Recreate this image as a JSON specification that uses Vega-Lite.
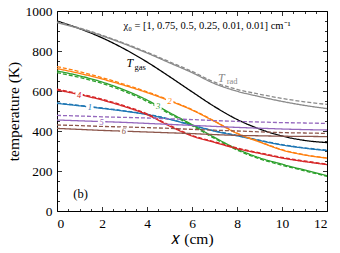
{
  "$schema": "https://vega.github.io/schema/vega-lite/v6.json",
  "width": 270,
  "height": 200,
  "autosize": {"type": "none"},
  "padding": {"left": 57, "top": 11, "right": 13, "bottom": 42},
  "config": {
    "font": "Liberation Serif",
    "view": {"stroke": "black", "strokeWidth": 1},
    "axis": {
      "domain": false, "grid": false,
      "labelFont": "Liberation Serif", "labelFontSize": 13.5, "labelColor": "black",
      "titleFont": "Liberation Serif", "titleFontSize": 15.5, "titleFontWeight": "normal", "titleColor": "black",
      "tickColor": "black", "tickWidth": 0.8
    }
  },
  "datasets": {
    "lines": [
      {"s":"gas","d":"s","x":0,"T":950},{"s":"gas","d":"s","x":1,"T":912},{"s":"gas","d":"s","x":2,"T":866},{"s":"gas","d":"s","x":3,"T":810},{"s":"gas","d":"s","x":4,"T":745},{"s":"gas","d":"s","x":5,"T":672},{"s":"gas","d":"s","x":6,"T":596},{"s":"gas","d":"s","x":7,"T":522},{"s":"gas","d":"s","x":8,"T":458},{"s":"gas","d":"s","x":9,"T":410},{"s":"gas","d":"s","x":10,"T":375},{"s":"gas","d":"s","x":11,"T":353},{"s":"gas","d":"s","x":12,"T":342},
      {"s":"rad","d":"s","x":0,"T":942},{"s":"rad","d":"s","x":1,"T":912},{"s":"rad","d":"s","x":2,"T":876},{"s":"rad","d":"s","x":3,"T":835},{"s":"rad","d":"s","x":4,"T":790},{"s":"rad","d":"s","x":5,"T":741},{"s":"rad","d":"s","x":6,"T":692},{"s":"rad","d":"s","x":7,"T":637},{"s":"rad","d":"s","x":8,"T":599},{"s":"rad","d":"s","x":9,"T":572},{"s":"rad","d":"s","x":10,"T":548},{"s":"rad","d":"s","x":11,"T":528},{"s":"rad","d":"s","x":12,"T":512},
      {"s":"rad","d":"d","x":0,"T":945},{"s":"rad","d":"d","x":1,"T":915},{"s":"rad","d":"d","x":2,"T":879},{"s":"rad","d":"d","x":3,"T":838},{"s":"rad","d":"d","x":4,"T":794},{"s":"rad","d":"d","x":5,"T":746},{"s":"rad","d":"d","x":6,"T":698},{"s":"rad","d":"d","x":7,"T":644},{"s":"rad","d":"d","x":8,"T":608},{"s":"rad","d":"d","x":9,"T":584},{"s":"rad","d":"d","x":10,"T":563},{"s":"rad","d":"d","x":11,"T":546},{"s":"rad","d":"d","x":12,"T":533},
      {"s":"1","d":"s","x":0,"T":538},{"s":"1","d":"s","x":1,"T":526},{"s":"1","d":"s","x":2,"T":513},{"s":"1","d":"s","x":3,"T":499},{"s":"1","d":"s","x":4,"T":482},{"s":"1","d":"s","x":5,"T":458},{"s":"1","d":"s","x":6,"T":428},{"s":"1","d":"s","x":7,"T":399},{"s":"1","d":"s","x":8,"T":376},{"s":"1","d":"s","x":9,"T":352},{"s":"1","d":"s","x":10,"T":330},{"s":"1","d":"s","x":11,"T":314},{"s":"1","d":"s","x":12,"T":302},
      {"s":"1","d":"d","x":0,"T":540},{"s":"1","d":"d","x":1,"T":528},{"s":"1","d":"d","x":2,"T":515},{"s":"1","d":"d","x":3,"T":501},{"s":"1","d":"d","x":4,"T":484},{"s":"1","d":"d","x":5,"T":460},{"s":"1","d":"d","x":6,"T":430},{"s":"1","d":"d","x":7,"T":401},{"s":"1","d":"d","x":8,"T":378},{"s":"1","d":"d","x":9,"T":354},{"s":"1","d":"d","x":10,"T":332},{"s":"1","d":"d","x":11,"T":316},{"s":"1","d":"d","x":12,"T":304},
      {"s":"2","d":"s","x":0,"T":712},{"s":"2","d":"s","x":1,"T":688},{"s":"2","d":"s","x":2,"T":660},{"s":"2","d":"s","x":3,"T":628},{"s":"2","d":"s","x":4,"T":592},{"s":"2","d":"s","x":5,"T":551},{"s":"2","d":"s","x":6,"T":505},{"s":"2","d":"s","x":7,"T":448},{"s":"2","d":"s","x":8,"T":388},{"s":"2","d":"s","x":9,"T":345},{"s":"2","d":"s","x":10,"T":305},{"s":"2","d":"s","x":11,"T":280},{"s":"2","d":"s","x":12,"T":264},
      {"s":"2","d":"d","x":0,"T":722},{"s":"2","d":"d","x":1,"T":697},{"s":"2","d":"d","x":2,"T":667},{"s":"2","d":"d","x":3,"T":633},{"s":"2","d":"d","x":4,"T":596},{"s":"2","d":"d","x":5,"T":554},{"s":"2","d":"d","x":6,"T":507},{"s":"2","d":"d","x":7,"T":450},{"s":"2","d":"d","x":8,"T":390},{"s":"2","d":"d","x":9,"T":347},{"s":"2","d":"d","x":10,"T":307},{"s":"2","d":"d","x":11,"T":281},{"s":"2","d":"d","x":12,"T":265},
      {"s":"3","d":"s","x":0,"T":700},{"s":"3","d":"s","x":1,"T":676},{"s":"3","d":"s","x":2,"T":645},{"s":"3","d":"s","x":3,"T":605},{"s":"3","d":"s","x":4,"T":555},{"s":"3","d":"s","x":5,"T":492},{"s":"3","d":"s","x":6,"T":432},{"s":"3","d":"s","x":7,"T":368},{"s":"3","d":"s","x":8,"T":310},{"s":"3","d":"s","x":9,"T":266},{"s":"3","d":"s","x":10,"T":234},{"s":"3","d":"s","x":11,"T":205},{"s":"3","d":"s","x":12,"T":177},
      {"s":"3","d":"d","x":0,"T":692},{"s":"3","d":"d","x":1,"T":668},{"s":"3","d":"d","x":2,"T":638},{"s":"3","d":"d","x":3,"T":598},{"s":"3","d":"d","x":4,"T":548},{"s":"3","d":"d","x":5,"T":486},{"s":"3","d":"d","x":6,"T":427},{"s":"3","d":"d","x":7,"T":363},{"s":"3","d":"d","x":8,"T":305},{"s":"3","d":"d","x":9,"T":261},{"s":"3","d":"d","x":10,"T":229},{"s":"3","d":"d","x":11,"T":201},{"s":"3","d":"d","x":12,"T":173},
      {"s":"4","d":"s","x":0,"T":605},{"s":"4","d":"s","x":1,"T":582},{"s":"4","d":"s","x":2,"T":555},{"s":"4","d":"s","x":3,"T":522},{"s":"4","d":"s","x":4,"T":482},{"s":"4","d":"s","x":5,"T":425},{"s":"4","d":"s","x":6,"T":375},{"s":"4","d":"s","x":7,"T":343},{"s":"4","d":"s","x":8,"T":312},{"s":"4","d":"s","x":9,"T":288},{"s":"4","d":"s","x":10,"T":265},{"s":"4","d":"s","x":11,"T":247},{"s":"4","d":"s","x":12,"T":232},
      {"s":"4","d":"d","x":0,"T":609},{"s":"4","d":"d","x":1,"T":586},{"s":"4","d":"d","x":2,"T":559},{"s":"4","d":"d","x":3,"T":526},{"s":"4","d":"d","x":4,"T":486},{"s":"4","d":"d","x":5,"T":429},{"s":"4","d":"d","x":6,"T":378},{"s":"4","d":"d","x":7,"T":346},{"s":"4","d":"d","x":8,"T":315},{"s":"4","d":"d","x":9,"T":291},{"s":"4","d":"d","x":10,"T":268},{"s":"4","d":"d","x":11,"T":250},{"s":"4","d":"d","x":12,"T":235},
      {"s":"5","d":"s","x":0,"T":455},{"s":"5","d":"s","x":1,"T":451},{"s":"5","d":"s","x":2,"T":447},{"s":"5","d":"s","x":3,"T":443},{"s":"5","d":"s","x":4,"T":438},{"s":"5","d":"s","x":5,"T":433},{"s":"5","d":"s","x":6,"T":428},{"s":"5","d":"s","x":7,"T":423},{"s":"5","d":"s","x":8,"T":418},{"s":"5","d":"s","x":9,"T":414},{"s":"5","d":"s","x":10,"T":410},{"s":"5","d":"s","x":11,"T":407},{"s":"5","d":"s","x":12,"T":405},
      {"s":"5","d":"d","x":0,"T":478},{"s":"5","d":"d","x":1,"T":475},{"s":"5","d":"d","x":2,"T":471},{"s":"5","d":"d","x":3,"T":468},{"s":"5","d":"d","x":4,"T":465},{"s":"5","d":"d","x":5,"T":461},{"s":"5","d":"d","x":6,"T":457},{"s":"5","d":"d","x":7,"T":452},{"s":"5","d":"d","x":8,"T":448},{"s":"5","d":"d","x":9,"T":445},{"s":"5","d":"d","x":10,"T":442},{"s":"5","d":"d","x":11,"T":440},{"s":"5","d":"d","x":12,"T":438},
      {"s":"6","d":"s","x":0,"T":413},{"s":"6","d":"s","x":1,"T":408},{"s":"6","d":"s","x":2,"T":403},{"s":"6","d":"s","x":3,"T":399},{"s":"6","d":"s","x":4,"T":395},{"s":"6","d":"s","x":5,"T":391},{"s":"6","d":"s","x":6,"T":387},{"s":"6","d":"s","x":7,"T":382},{"s":"6","d":"s","x":8,"T":378},{"s":"6","d":"s","x":9,"T":376},{"s":"6","d":"s","x":10,"T":374},{"s":"6","d":"s","x":11,"T":373},{"s":"6","d":"s","x":12,"T":372},
      {"s":"6","d":"d","x":0,"T":430},{"s":"6","d":"d","x":1,"T":427},{"s":"6","d":"d","x":2,"T":423},{"s":"6","d":"d","x":3,"T":420},{"s":"6","d":"d","x":4,"T":417},{"s":"6","d":"d","x":5,"T":413},{"s":"6","d":"d","x":6,"T":408},{"s":"6","d":"d","x":7,"T":404},{"s":"6","d":"d","x":8,"T":400},{"s":"6","d":"d","x":9,"T":396},{"s":"6","d":"d","x":10,"T":392},{"s":"6","d":"d","x":11,"T":390},{"s":"6","d":"d","x":12,"T":388}
    ],
    "labels": [
      {"s":"1","x":1.46,"T":522,"lab":"1"},
      {"s":"2","x":5.01,"T":550,"lab":"2"},
      {"s":"3","x":4.49,"T":524,"lab":"3"},
      {"s":"4","x":0.98,"T":581,"lab":"4"},
      {"s":"5","x":1.98,"T":446,"lab":"5"},
      {"s":"6","x":2.97,"T":399,"lab":"6"}
    ]
  },
  "layer": [
    {
      "data": {"name": "lines"},
      "mark": {"type": "line", "interpolate": "monotone", "strokeWidth": 1.3},
      "encoding": {
        "x": {"field": "x", "type": "quantitative", "scale": {"domain": [0, 12], "nice": false},
              "axis": {"orient": "bottom", "values": [0,2,4,6,8,10,12], "ticks": false, "labelPadding": 5, "title": "𝑥 (cm)", "titlePadding": 2}},
        "y": {"field": "T", "type": "quantitative", "scale": {"domain": [0, 1000], "nice": false},
              "axis": {"orient": "left", "values": [0,200,400,600,800,1000], "format": "d", "ticks": false, "labelPadding": 5, "title": "temperature (K)", "titlePadding": 4}},
        "color": {"field": "s", "type": "nominal", "legend": null,
                  "scale": {"domain": ["gas","rad","1","2","3","4","5","6"], "range": ["#000000","#8a8a8a","#1f77b4","#ff7f0e","#2ca02c","#d62728","#9467bd","#8c564b"]}},
        "strokeDash": {"field": "d", "type": "nominal", "legend": null, "scale": {"domain": ["s","d"], "range": [[1,0],[4,2]]}},
        "strokeWidth": {"condition": {"test": "datum.s === 'gas'", "value": 1.6}, "value": 1.3}
      }
    },
    {
      "data": {"name": "labels"},
      "mark": {"type": "point", "shape": "square", "filled": true, "color": "white", "opacity": 1, "size": 55},
      "encoding": {
        "x": {"field": "x", "type": "quantitative", "axis": {"orient": "bottom", "values": [0,2,4,6,8,10,12], "labels": false, "tickSize": -4.5, "title": null}},
        "y": {"field": "T", "type": "quantitative", "axis": {"orient": "left", "values": [0,200,400,600,800,1000], "labels": false, "tickSize": -4.5, "title": null}}
      }
    },
    {
      "data": {"name": "labels"},
      "mark": {"type": "text", "fontSize": 8.5, "fontStyle": "italic", "font": "Liberation Serif", "baseline": "middle", "align": "center"},
      "encoding": {
        "x": {"field": "x", "type": "quantitative", "axis": {"orient": "bottom", "values": [1,3,5,7,9,11,0.5,1.5,2.5,3.5,4.5,5.5,6.5,7.5,8.5,9.5,10.5,11.5], "labels": false, "tickSize": -2.5, "title": null}},
        "y": {"field": "T", "type": "quantitative", "axis": {"orient": "left", "values": [50,100,150,250,300,350,450,500,550,650,700,750,850,900,950], "labels": false, "tickSize": -2.5, "title": null}},
        "text": {"field": "lab"},
        "color": {"field": "s", "type": "nominal", "legend": null}
      }
    },
    {
      "data": {"values": [{"x": 6.67, "T": 927, "txt": "χ₀ = [1, 0.75, 0.5, 0.25, 0.01, 0.01] cm⁻¹"}]},
      "mark": {"type": "text", "fontSize": 10.5, "font": "Liberation Serif", "align": "center", "baseline": "middle", "color": "black"},
      "encoding": {
        "x": {"field": "x", "type": "quantitative", "axis": {"orient": "top", "values": [0,2,4,6,8,10,12], "labels": false, "tickSize": -4.5, "title": null}},
        "y": {"field": "T", "type": "quantitative", "axis": {"orient": "right", "values": [0,200,400,600,800,1000], "labels": false, "tickSize": -4.5, "title": null}},
        "text": {"field": "txt"}
      }
    },
    {
      "data": {"values": [{"x": 1.05, "T": 85, "txt": "(b)"}]},
      "mark": {"type": "text", "fontSize": 12.5, "font": "Liberation Serif", "align": "center", "baseline": "middle", "color": "black"},
      "encoding": {
        "x": {"field": "x", "type": "quantitative", "axis": {"orient": "top", "values": [1,3,5,7,9,11,0.5,1.5,2.5,3.5,4.5,5.5,6.5,7.5,8.5,9.5,10.5,11.5], "labels": false, "tickSize": -2.5, "title": null}},
        "y": {"field": "T", "type": "quantitative", "axis": {"orient": "right", "values": [50,100,150,250,300,350,450,500,550,650,700,750,850,900,950], "labels": false, "tickSize": -2.5, "title": null}},
        "text": {"field": "txt"}
      }
    },
    {
      "data": {"values": [{"x": 3.24, "T": 738, "txt": "T", "s": "gas"}, {"x": 7.3, "T": 663, "txt": "T", "s": "rad"}]},
      "mark": {"type": "text", "fontSize": 12, "fontStyle": "italic", "font": "Liberation Serif", "align": "center", "baseline": "middle"},
      "encoding": {
        "x": {"field": "x", "type": "quantitative", "axis": null},
        "y": {"field": "T", "type": "quantitative", "axis": null},
        "text": {"field": "txt"},
        "color": {"field": "s", "type": "nominal", "legend": null}
      }
    },
    {
      "data": {"values": [{"x": 3.44, "T": 721, "txt": "gas", "s": "gas"}, {"x": 7.54, "T": 649, "txt": "rad", "s": "rad"}]},
      "mark": {"type": "text", "fontSize": 8.5, "font": "Liberation Serif", "align": "left", "baseline": "middle"},
      "encoding": {
        "x": {"field": "x", "type": "quantitative", "axis": null},
        "y": {"field": "T", "type": "quantitative", "axis": null},
        "text": {"field": "txt"},
        "color": {"field": "s", "type": "nominal", "legend": null}
      }
    }
  ],
  "resolve": {"axis": {"x": "independent", "y": "independent"}}
}
